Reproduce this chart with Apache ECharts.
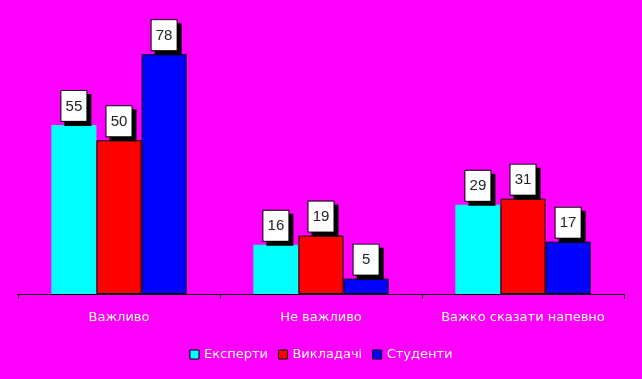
<!DOCTYPE html>
<html><head><meta charset="utf-8">
<script src="https://cdn.jsdelivr.net/npm/echarts@6/dist/echarts.min.js"></script>
<style>html,body{margin:0;padding:0;background:#ff00ff}#c{width:642px;height:379px}</style>
</head><body><div id="c"></div>
<script>
const categories = ['Важливо', 'Не важливо', 'Важко сказати напевно'];
const seriesNames = ['Експерти', 'Викладачі', 'Студенти'];
const experts = [55, 16, 29];
const teachers = [50, 19, 31];
const students = [78, 5, 17];
const colors = ['#00ffff', '#ff0000', '#0000ff'];

const chart = echarts.init(document.getElementById('c'));
const label = {
  show: true, position: 'top', distance: 4,
  color: '#222', fontFamily: 'Liberation Sans, Arial', fontSize: 15,
  backgroundColor: '#fff', borderColor: '#000', borderWidth: 1,
  padding: [7, 4, 6, 4], width: 17, align: 'center', lineHeight: 17,
  shadowColor: '#000', shadowOffsetX: 4, shadowOffsetY: 4, shadowBlur: 0
};
function mk(name, data, i) {
  return {
    name, type: 'bar', data,
    barGap: '0%', barCategoryGap: '33%',
    itemStyle: { color: colors[i], borderColor: i === 0 ? 'transparent' : '#000', borderWidth: i === 0 ? 0 : 1 },
    label
  };
}
const txt = { color: '#fff', fontFamily: 'DejaVu Sans', fontSize: 13,
  textShadowColor: '#000', textShadowOffsetX: 1, textShadowOffsetY: 1, textShadowBlur: 0 };
chart.setOption({
  backgroundColor: '#ff00ff',
  animation: false,
  grid: { left: 18, right: 18, top: 48, bottom: 85 },
  legend: {
    bottom: 13, left: 'center', itemWidth: 9, itemHeight: 9, itemGap: 10,
    icon: 'rect',
    textStyle: txt,
    data: seriesNames.map((n, i) => ({ name: n, itemStyle: { color: colors[i], borderColor: '#000', borderWidth: 1 } }))
  },
  xAxis: {
    type: 'category', data: categories,
    axisLine: { lineStyle: { color: '#000', width: 1 } },
    axisTick: { show: true, interval: 0, length: 5, lineStyle: { color: '#000' } },
    axisLabel: Object.assign({ margin: 17, interval: 0, hideOverlap: false }, txt)
  },
  yAxis: { type: 'value', min: 0, max: 80, show: false, splitLine: { show: false } },
  series: [mk(seriesNames[0], experts, 0), mk(seriesNames[1], teachers, 1), mk(seriesNames[2], students, 2)]
});
</script></body></html>
